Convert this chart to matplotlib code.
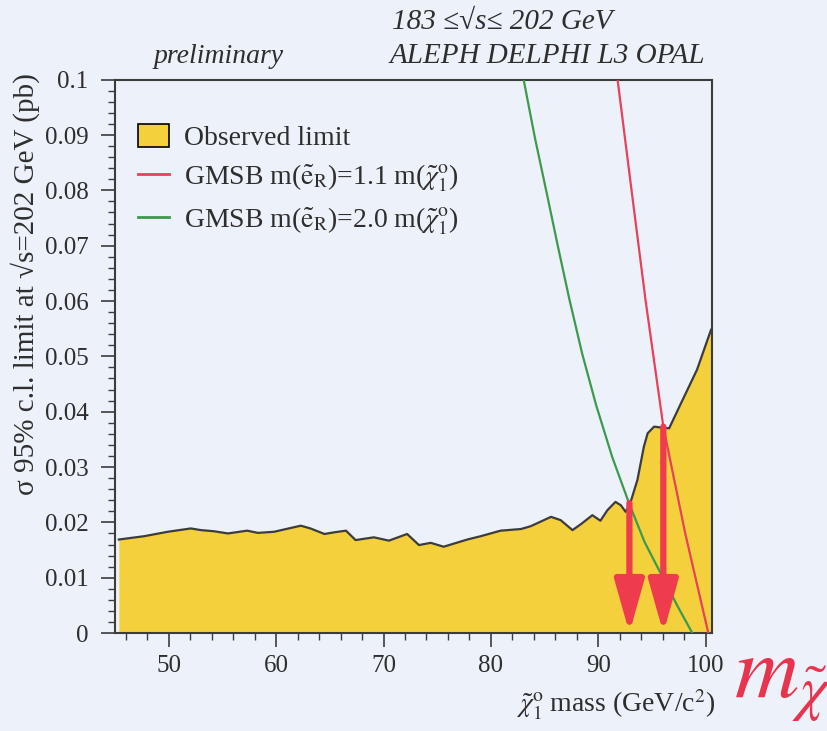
import matplotlib
matplotlib.use("Agg")
import matplotlib.pyplot as plt
from matplotlib.patches import Patch
from matplotlib.lines import Line2D
from matplotlib.ticker import MultipleLocator, FixedFormatter, FixedLocator

plt.rcParams['font.family'] = ['Liberation Serif', 'DejaVu Serif']
plt.rcParams['mathtext.fontset'] = 'stix'

# Observed 95% CL cross-section limit (pb) vs neutralino mass (GeV/c^2)
obs_mass = [45.35, 47.7, 49.9, 52.05, 53.0, 54.2, 55.5, 57.3, 58.3, 59.8,
            62.3, 63.2, 64.5, 65.4, 66.5, 67.4, 69.1, 70.5, 72.2, 73.3,
            74.4, 75.6, 77.8, 79.05, 80.9, 82.8, 83.7, 85.6, 86.5, 87.6,
            88.4, 89.45, 90.2, 90.85, 91.6, 92.1, 92.55, 93.0, 93.65, 94.25,
            94.6, 95.2, 96.0, 96.6, 97.7, 99.2, 100.5]
obs_limit = [0.0169, 0.0175, 0.0183, 0.0189, 0.0186, 0.0184, 0.0180, 0.0185, 0.0181, 0.0183,
             0.0194, 0.0189, 0.0179, 0.0182, 0.0185, 0.0168, 0.0173, 0.0167, 0.0179, 0.0159,
             0.0163, 0.0156, 0.0169, 0.0175, 0.0185, 0.0188, 0.0193, 0.0210, 0.0204, 0.0186,
             0.0197, 0.0213, 0.0203, 0.0222, 0.0237, 0.0231, 0.0219, 0.0236, 0.0277, 0.0337,
             0.0361, 0.0373, 0.0371, 0.0370, 0.0415, 0.0476, 0.0548]

# GMSB predictions
gmsb11_mass = [91.8, 93.1, 94.4, 96.06, 98.1, 100.25]
gmsb11_xsec = [0.100, 0.080, 0.0602, 0.0373, 0.018, 0.0]
gmsb20_mass = [83.05, 84.1, 85.2, 86.25, 87.3, 88.5, 89.8, 91.3, 92.86, 94.3, 95.97, 97.4, 98.76]
gmsb20_xsec = [0.100, 0.0895, 0.0795, 0.0698, 0.0604, 0.0505, 0.0412, 0.0318, 0.0235, 0.0165, 0.0102, 0.0048, 0.0]

# Excluded mass limits (arrows start at the crossing points)
limit_mass = [92.9, 96.06]
limit_xsec = [0.0235, 0.0373]

x_ticks = [50, 60, 70, 80, 90, 100]
y_ticks = [0, 0.01, 0.02, 0.03, 0.04, 0.05, 0.06, 0.07, 0.08, 0.09, 0.1]
y_tick_labels = ['0', '0.01', '0.02', '0.03', '0.04', '0.05', '0.06', '0.07', '0.08', '0.09', '0.1']

BG = '#edf1f9'
GOLD = '#f4d03c'
EDGE = '#3c3c3c'
TXT = '#2e2e2e'
RED = '#e8415a'
GREEN = '#3c9a4c'
ARROW = '#ef3b4e'

fig = plt.figure(figsize=(8.28, 7.31), dpi=100)
fig.patch.set_facecolor(BG)
ax = fig.add_axes([0.139, 0.134, 0.721, 0.757])
ax.set_facecolor(BG)

ax.fill_between(obs_mass + [obs_mass[-1]], obs_limit + [0.0], 0, color=GOLD, lw=0, zorder=1)
ax.plot(obs_mass, obs_limit, color=EDGE, lw=1.6, zorder=3)

ax.plot(gmsb11_mass, gmsb11_xsec, color=RED, lw=1.6, zorder=4)
ax.plot(gmsb20_mass, gmsb20_xsec, color=GREEN, lw=1.6, zorder=4)

for m, s in zip(limit_mass, limit_xsec):
    ax.annotate('', xy=(m, 0.0), xytext=(m, s),
                arrowprops=dict(arrowstyle='-|>,head_length=32,head_width=9',
                                mutation_scale=1, lw=4.5, color=ARROW,
                                shrinkA=0, shrinkB=0), zorder=5)

ax.set_xlim(45.0, 100.6)
ax.set_ylim(0, 0.1)

ax.xaxis.set_major_locator(FixedLocator(x_ticks))
ax.xaxis.set_minor_locator(MultipleLocator(2))
ax.yaxis.set_major_locator(FixedLocator(y_ticks))
ax.yaxis.set_major_formatter(FixedFormatter(y_tick_labels))
ax.yaxis.set_minor_locator(MultipleLocator(0.002))

ax.tick_params(axis='both', which='major', direction='out', length=10, width=1.2,
               color=EDGE, labelsize=18, labelcolor=TXT)
ax.tick_params(axis='both', which='minor', direction='out', length=5, width=1.0, color=EDGE)
ax.tick_params(axis='x', which='major', pad=6)
ax.tick_params(axis='y', which='major', pad=9)
for sp in ax.spines.values():
    sp.set_color(EDGE)
    sp.set_linewidth(1.5)

ax.set_ylabel('σ 95% c.l. limit at √s=202 GeV (pb)', fontsize=21, color=TXT)
ax.yaxis.set_label_coords(-0.125, 0.631)
ax.set_xlabel(r'$\tilde{\chi}_1^{\mathrm{o}}$ mass (GeV/c$^2$)', fontsize=20, color=TXT,
              ha='right')
ax.xaxis.set_label_coords(1.005, -0.1)

handles = [Patch(facecolor=GOLD, edgecolor='black', linewidth=1.2),
           Line2D([], [], color=RED, lw=2),
           Line2D([], [], color=GREEN, lw=2)]
labels = ['Observed limit',
          r'GMSB m($\tilde{\mathrm{e}}_\mathrm{R}$)=1.1 m($\tilde{\chi}_1^{\mathrm{o}}$)',
          r'GMSB m($\tilde{\mathrm{e}}_\mathrm{R}$)=2.0 m($\tilde{\chi}_1^{\mathrm{o}}$)']
leg = ax.legend(handles, labels, loc='upper left', bbox_to_anchor=(0.02, 0.94),
                frameon=False, fontsize=20, handlelength=1.1, handleheight=0.9,
                handletextpad=0.55, labelspacing=0.42, borderaxespad=0)
for t in leg.get_texts():
    t.set_color(TXT)

fig.text(0.264, 0.914, 'preliminary', fontsize=20, style='italic', color=TXT, ha='center',
         va='baseline')
fig.text(0.471, 0.914, 'ALEPH DELPHI L3 OPAL', fontsize=21, style='italic', color=TXT,
         ha='left', va='baseline')
fig.text(0.474, 0.961, '183 ≤√s≤ 202 GeV', fontsize=21, style='italic', color=TXT,
         ha='left', va='baseline')

fig.text(0.886, 0.045, r'$m_{\tilde{\chi}}$', fontsize=64, color='#e8344e',
         ha='left', va='baseline')

fig.savefig('out.png', dpi=100, facecolor=BG)
